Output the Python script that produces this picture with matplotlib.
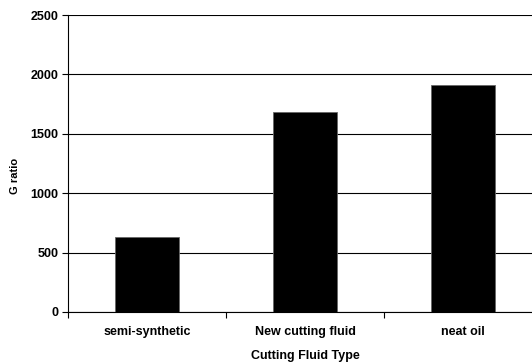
import numpy as np
import matplotlib.pyplot as plt

plt.rcParams['font.family'] = ['Liberation Sans', 'DejaVu Sans']
plt.rcParams['font.weight'] = 'bold'

fluid_types = ['semi-synthetic', 'New cutting fluid', 'neat oil']
g_ratio = [631, 1686, 1913]
y_ticks = [0, 500, 1000, 1500, 2000, 2500]

fig = plt.figure(figsize=(5.32, 3.64), dpi=100)
ax = fig.add_axes([68 / 532, 52 / 364, 474 / 532, 297 / 364])

x = np.arange(len(fluid_types))
ax.bar(x, g_ratio, width=0.4, color='black', edgecolor='#666666', linewidth=0.6, zorder=3)

ax.set_xlim(-0.5, 2.5)
ax.set_ylim(0, 2500)
ax.set_yticks(y_ticks)
ax.yaxis.grid(True, color='black', linewidth=0.8, zorder=0)
ax.set_axisbelow(True)

# category ticks sit on the boundaries, labels in the middle
ax.set_xticks([-0.5, 0.5, 1.5, 2.5])
ax.set_xticklabels([])
ax.set_xticks(x, minor=True)
ax.set_xticklabels(fluid_types, minor=True, fontsize=9, fontweight='bold')
ax.tick_params(axis='x', which='minor', length=0, pad=10)
ax.tick_params(axis='x', which='major', length=4, width=0.8, direction='out')
ax.tick_params(axis='y', length=4, width=0.8, direction='out', labelsize=9, pad=3)
for lab in ax.get_yticklabels():
    lab.set_fontweight('bold')

for side in ['top', 'right']:
    ax.spines[side].set_visible(False)
ax.spines['left'].set_linewidth(0.8)
ax.spines['bottom'].set_linewidth(0.8)

ax.set_xlabel('Cutting Fluid Type', fontsize=9, fontweight='bold', labelpad=9)
fig.text(15 / 532, 1 - 176 / 364, 'G ratio', rotation=90, fontsize=8, fontweight='bold',
         ha='center', va='center')

plt.savefig('out.png', dpi=100)
